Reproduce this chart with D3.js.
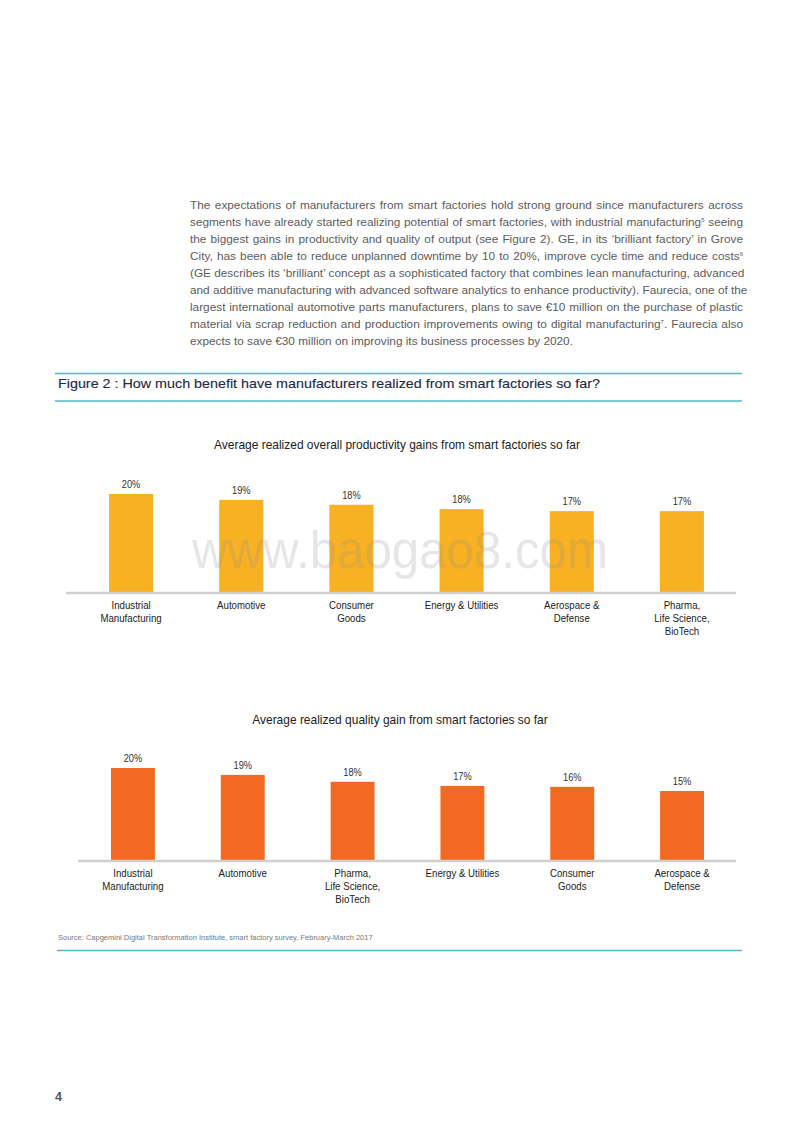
<!DOCTYPE html>
<html>
<head>
<meta charset="utf-8">
<script src="https://cdn.jsdelivr.net/npm/d3@7"></script>
<style>
  html, body { margin: 0; padding: 0; background: #fff; }
  #page { position: relative; width: 800px; height: 1132px; overflow: hidden; }
  #para { position: absolute; left: 190px; top: 196.5px; width: 553px;
          font-family: "Liberation Sans", Arial, sans-serif; font-size: 11.8px;
          line-height: 17.1px; color: #5c5c5c; }
  #para .ln { text-align: justify; text-align-last: justify; white-space: nowrap; }
  #para .ln.last { text-align: left; text-align-last: left; }
  #para sup { font-size: 6px; vertical-align: 4px; line-height: 0; }
  svg { position: absolute; left: 0; top: 0; }
</style>
</head>
<body>
<div id="page">
  <div id="para"></div>
  <svg id="chart" width="800" height="1132"></svg>
</div>
<script>
// ---------------- DATA ----------------
const paragraphLines = [
  "The expectations of manufacturers from smart factories hold strong ground since manufacturers across",
  "segments have already started realizing potential of smart factories, with industrial manufacturing<sup>5</sup> seeing",
  "the biggest gains in productivity and quality of output (see Figure 2). GE, in its ‘brilliant factory’ in Grove",
  "City, has been able to reduce unplanned downtime by 10 to 20%, improve cycle time and reduce costs<sup>6</sup>",
  "(GE describes its ‘brilliant’ concept as a sophisticated factory that combines lean manufacturing, advanced",
  "and additive manufacturing with advanced software analytics to enhance productivity). Faurecia, one of the",
  "largest international automotive parts manufacturers, plans to save €10 million on the purchase of plastic",
  "material via scrap reduction and production improvements owing to digital manufacturing<sup>7</sup>. Faurecia also",
  "expects to save €30 million on improving its business processes by 2020."
];
const figureTitle = "Figure 2 : How much benefit have manufacturers realized from smart factories so far?";
const sourceText = "Source: Capgemini Digital Transformation Institute, smart factory survey, February-March 2017";
const watermark = "www.baogao8.com";
const pageNumber = "4";

const productivityTitle = "Average realized overall productivity gains from smart factories so far";
const productivityCategories = ["Industrial\nManufacturing", "Automotive", "Consumer\nGoods",
  "Energy & Utilities", "Aerospace &\nDefense", "Pharma,\nLife Science,\nBioTech"];
const productivityValues = [20, 18.8, 17.8, 16.9, 16.5, 16.5];
const productivityLabels = ["20%", "19%", "18%", "18%", "17%", "17%"];

const qualityTitle = "Average realized quality gain from smart factories so far";
const qualityCategories = ["Industrial\nManufacturing", "Automotive", "Pharma,\nLife Science,\nBioTech",
  "Energy & Utilities", "Consumer\nGoods", "Aerospace &\nDefense"];
const qualityValues = [20, 18.5, 17.0, 16.1, 15.9, 15.0];
const qualityLabels = ["20%", "19%", "18%", "17%", "16%", "15%"];

// ---------------- TEXT BLOCK ----------------
const para = d3.select("#para");
paragraphLines.forEach((l, i) => {
  para.append("div").attr("class", "ln" + (i === paragraphLines.length - 1 ? " last" : "")).html(l);
});

// ---------------- SVG ----------------
const svg = d3.select("#chart");
const chartFont = '"Liberation Sans", Arial, sans-serif';
const condense = 0.88;
const teal = "#4fb7cc";

// figure title band
svg.append("line").attr("x1", 55).attr("x2", 742).attr("y1", 373.5).attr("y2", 373.5)
  .attr("stroke", teal).attr("stroke-width", 1.3);
svg.append("line").attr("x1", 55).attr("x2", 742).attr("y1", 401).attr("y2", 401)
  .attr("stroke", teal).attr("stroke-width", 1.3);
svg.append("text").attr("x", 58).attr("y", 387.5)
  .attr("font-family", chartFont).attr("font-size", 12.8)
  .attr("textLength", 542).attr("lengthAdjust", "spacingAndGlyphs")
  .attr("fill", "#1b2a47").attr("stroke", "#1b2a47").attr("stroke-width", 0.12)
  .text(figureTitle);

function condText(g, cx, cy, size, fill, str) {
  return g.append("text")
    .attr("transform", `translate(${cx},${cy}) scale(${condense},1)`)
    .attr("text-anchor", "middle")
    .attr("font-family", chartFont).attr("font-size", size).attr("fill", fill)
    .text(str);
}

function drawChart(cfg) {
  const g = svg.append("g");
  const x = d3.scaleBand().domain(cfg.categories).range(cfg.xRange)
    .paddingInner(0.6).paddingOuter(0.3);
  const y = d3.scaleLinear().domain([0, 20]).range([cfg.base, cfg.top]);
  const cx = d => x(d) + x.bandwidth() / 2;

  condText(g, cfg.titleX, cfg.titleY, 13.6, "#222", cfg.title);

  g.selectAll("rect.bar").data(cfg.values).enter().append("rect")
    .attr("class", "bar")
    .attr("x", (d, i) => x(cfg.categories[i]))
    .attr("width", x.bandwidth())
    .attr("y", d => y(d))
    .attr("height", d => y(0) - y(d))
    .attr("fill", cfg.color);

  cfg.values.forEach((v, i) => {
    condText(g, cx(cfg.categories[i]), y(v) - 6, 10.5, "#333", cfg.labels[i]);
  });

  g.append("line").attr("x1", cfg.axisX[0]).attr("x2", cfg.axisX[1])
    .attr("y1", y(0) + 1).attr("y2", y(0) + 1)
    .attr("stroke", "#cfcfcf").attr("stroke-width", 2.5);

  cfg.categories.forEach(c => {
    const t = condText(g, cx(c), y(0) + 17, 11, "#222", null);
    c.split("\n").forEach((s, j) => {
      t.append("tspan").attr("x", 0).attr("dy", j === 0 ? 0 : 13).text(s);
    });
  });
}

drawChart({
  title: productivityTitle, titleX: 397, titleY: 449,
  categories: productivityCategories, values: productivityValues, labels: productivityLabels,
  xRange: [76, 737], base: 592, top: 494, axisX: [66, 736], color: "#f8b122"
});

drawChart({
  title: qualityTitle, titleX: 400, titleY: 724,
  categories: qualityCategories, values: qualityValues, labels: qualityLabels,
  xRange: [78, 737], base: 860, top: 768, axisX: [78, 736], color: "#f26922"
});

// watermark (semi-transparent, above bars)
svg.append("text").attr("x", 192).attr("y", 568)
  .attr("font-family", chartFont).attr("font-size", 51)
  .attr("textLength", 416).attr("lengthAdjust", "spacingAndGlyphs")
  .attr("fill", "#8c8c8c").attr("fill-opacity", 0.22).text(watermark);

// source + bottom rule
svg.append("text").attr("x", 58).attr("y", 940)
  .attr("font-family", chartFont).attr("font-size", 7.5)
  .attr("fill", "#7a7a7a").text(sourceText);
svg.append("line").attr("x1", 57).attr("x2", 742).attr("y1", 950.5).attr("y2", 950.5)
  .attr("stroke", teal).attr("stroke-width", 1.3);

// page number
svg.append("text").attr("x", 55).attr("y", 1101)
  .attr("font-family", chartFont).attr("font-size", 12.5)
  .attr("font-weight", "bold").attr("fill", "#555").text(pageNumber);
</script>
</body>
</html>
